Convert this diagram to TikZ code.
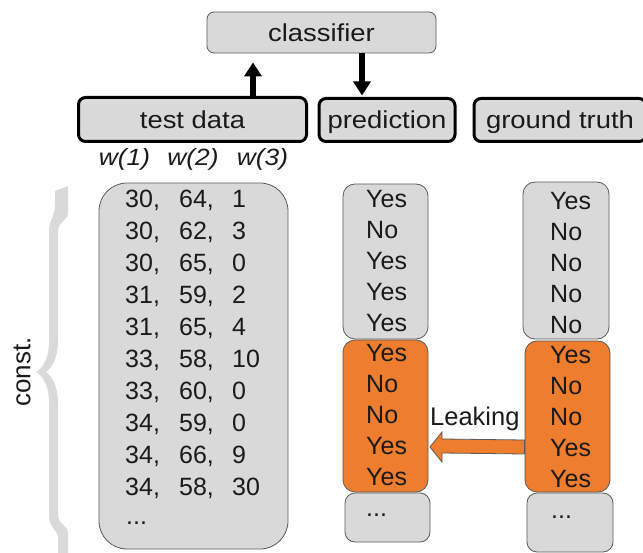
\documentclass[tikz,border=0pt]{standalone}
\usepackage{fontspec}
\setmainfont{Liberation Sans}
\newfontfamily\widefont{Liberation Sans}[FakeStretch=1.12]
\usetikzlibrary{arrows.meta}
\definecolor{boxgray}{HTML}{D9D9D9}
\definecolor{edgegray}{HTML}{5A5A5A}
\definecolor{leakorange}{HTML}{EE7D2E}
\definecolor{bracegray}{HTML}{DADADA}
\definecolor{ink}{HTML}{1A1A1A}
\newcommand\toplabelfont{\widefont\fontsize{24.5}{30}\selectfont}
\newcommand\cellfont{\fontsize{25}{28}\selectfont}
\begin{document}
\begin{tikzpicture}[x=1pt,y=-1pt,
  graybox/.style={draw=edgegray, line width=0.8pt, fill=boxgray, inner sep=0pt},
  orangebox/.style={draw=edgegray, line width=0.8pt, fill=leakorange, inner sep=0pt},
  labeltext/.style={font=\toplabelfont, text=ink, text height=17.6pt, text depth=0pt},
  labelbox/.style={draw=black, line width=3pt, fill=boxgray, rounded corners=7pt, inner sep=0pt, labeltext},
  cell/.style={anchor=base west, inner sep=0pt, font=\cellfont, text=ink},
  whead/.style={anchor=base, inner sep=0pt, font=\widefont\fontsize{23.5}{28}\selectfont\itshape, text=ink},
  bigarrow/.style={line width=6pt, draw=black, -{Triangle[width=17pt,length=14pt]}},
]
\useasboundingbox (0,0) rectangle (643,553);

% top boxes
\node[graybox, rounded corners=7pt, minimum width=229pt, minimum height=41pt, labeltext] (cls) at (321.5,32.5) {classifier};
\node[labelbox, minimum width=228pt, minimum height=44pt] (td) at (192.5,119.5) {test data};
\node[labelbox, minimum width=136pt, minimum height=43pt] (pred) at (387,120) {prediction};
\node[labelbox, minimum width=172pt, minimum height=43pt] (gt) at (560,120) {ground truth};

% arrows to/from classifier
\draw[bigarrow] ([xshift=60.5pt,yshift=-1.5pt]td.north) -- ([xshift=-68.5pt,yshift=-9pt]cls.south);
\draw[bigarrow] ([xshift=40.5pt]cls.south) -- ([xshift=-25pt,yshift=1.5pt]pred.north);

% column headers
\node[whead] (w1) at (124.5,166) {w(1)};
\node[whead] (w2) at (193,166) {w(2)};
\node[whead] (w3) at (262.5,166) {w(3)};

% brace
\fill[bracegray] (68,186) -- (68,212) .. controls (68,222) and (58,220) .. (58,232)
  -- (58,340) .. controls (58,360) and (51,368) .. (46,372)
  .. controls (51,376) and (58,384) .. (58,404)
  -- (58,514) .. controls (58,526) and (68,524) .. (68,534) -- (68,553) -- (58,553)
  -- (58,538) .. controls (58,530) and (49,528) .. (49,516)
  -- (49,404) .. controls (49,386) and (44,377) .. (36,372)
  .. controls (44,367) and (49,358) .. (49,340)
  -- (49,232) .. controls (49,220) and (55,216) .. (55,205) -- (55,191) -- cycle;
\node[rotate=90, inner sep=0pt, font=\fontsize{26}{30}\selectfont, text=ink] (constlbl) at (22,372) {const.};

% data box
\node[graybox, rounded corners=28pt, minimum width=189pt, minimum height=366pt] (data) at (193.5,366) {};
\foreach \a/\b/\c [count=\i from 0] in {30/64/1,30/62/3,30/65/0,31/59/2,31/65/4,33/58/10,33/60/0,34/59/0,34/66/9,34/58/30}
  \node[cell] (row\i) at (125,208+31.9*\i) {\makebox[54pt][l]{\a,}\makebox[53pt][l]{\b,}\c};
\node[cell] (rowdots) at (126,524) {...};

% prediction column
\node[graybox, rounded corners=12pt, minimum width=85pt, minimum height=155pt] (pg) at (385.5,261.5) {};
\node[orangebox, rounded corners=12pt, minimum width=85pt, minimum height=152pt] (po) at (385.5,416) {};
\node[graybox, rounded corners=10pt, minimum width=85pt, minimum height=49pt] (pd) at (387.5,517.5) {};
\foreach \t [count=\i from 0] in {Yes,No,Yes,Yes,Yes,Yes,No,No,Yes,Yes}
  \node[cell] (p\i) at (366,208+30.8*\i) {\t};
\node[cell] (pdots) at (366,516) {...};

% ground truth column
\node[graybox, rounded corners=12pt, minimum width=86pt, minimum height=157pt] (gg) at (566,260.5) {};
\node[orangebox, rounded corners=12pt, minimum width=85pt, minimum height=151pt] (go) at (567.5,416.5) {};
\node[graybox, rounded corners=10pt, minimum width=86pt, minimum height=59pt] (gd) at (570,522.5) {};
\foreach \t [count=\i from 0] in {Yes,No,No,No,No,Yes,No,No,Yes,Yes}
  \node[cell] (g\i) at (550,210+30.8*\i) {\t};
\node[cell] (gdots) at (551,518) {...};

% leaking arrow
\node[cell, font=\fontsize{25.5}{28}\selectfont] (leak) at (430,425) {Leaking};
\draw[orangebox] ([yshift=-23.5pt]go.west) -- (442,439) -- (442,432) -- (430,447)
  -- (442,462) -- (442,453) -- ([yshift=-37.5pt]go.west) -- cycle;
\end{tikzpicture}
\end{document}
